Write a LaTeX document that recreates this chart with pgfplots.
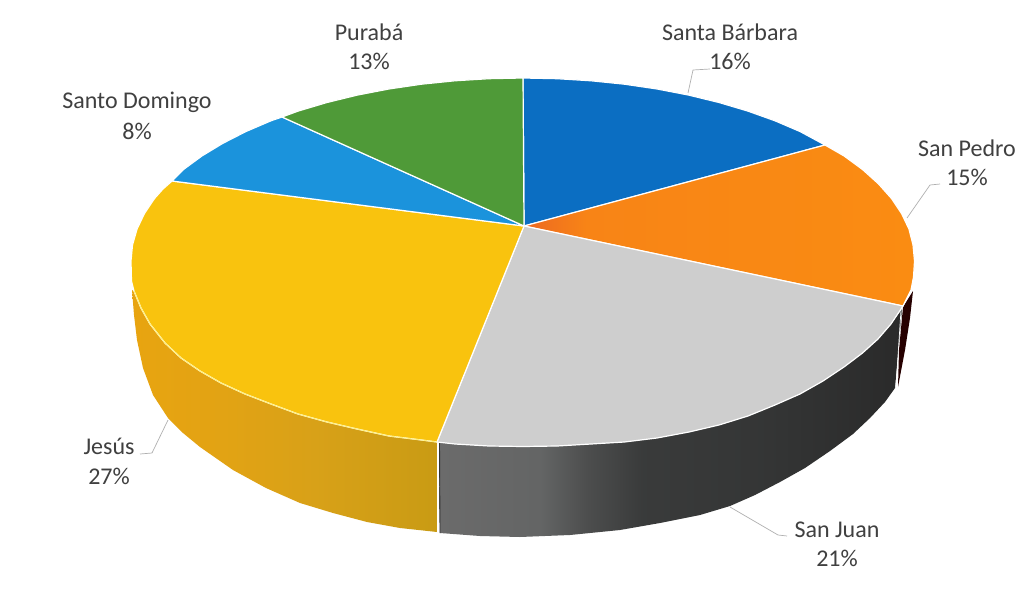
\documentclass[border=0pt]{standalone}
\usepackage{pgfplots}
\pgfplotsset{compat=1.18}
\usepackage{fontspec}
\setmainfont{Carlito}

\definecolor{sbblue}{HTML}{0B6EC2}
\definecolor{sdblue}{HTML}{1B93DC}
\definecolor{pgreen}{HTML}{4F9A38}
\definecolor{gold}{HTML}{F9C30E}
\definecolor{topgray}{HTML}{CECECE}
\definecolor{labeltext}{HTML}{404040}
\definecolor{leader}{HTML}{B0B0B0}
\definecolor{goldrim}{HTML}{FFF07A}

% Horizontal colour ramps for the rim and for the orange wedge (25bp..75bp spans the path).
\pgfdeclarehorizontalshading{rimgold}{100bp}{
  rgb(0bp)=(0.91,0.643,0.063);
  rgb(25bp)=(0.91,0.643,0.063);
  rgb(40bp)=(0.886,0.639,0.078);
  rgb(55bp)=(0.847,0.631,0.094);
  rgb(75bp)=(0.788,0.608,0.078);
  rgb(100bp)=(0.788,0.608,0.078)}
\pgfdeclarehorizontalshading{rimgray}{100bp}{
  rgb(0bp)=(0.42,0.42,0.42);
  rgb(25bp)=(0.42,0.42,0.42);
  rgb(36bp)=(0.39,0.395,0.395);
  rgb(41bp)=(0.30,0.305,0.305);
  rgb(47bp)=(0.225,0.23,0.23);
  rgb(60bp)=(0.205,0.21,0.21);
  rgb(75bp)=(0.165,0.165,0.165);
  rgb(100bp)=(0.165,0.165,0.165)}
\pgfdeclarehorizontalshading{topfaceorange}{100bp}{
  rgb(0bp)=(0.925,0.408,0.133);
  rgb(25bp)=(0.925,0.408,0.133);
  rgb(33bp)=(0.973,0.518,0.086);
  rgb(75bp)=(0.98,0.549,0.071);
  rgb(100bp)=(0.98,0.549,0.071)}

\begin{document}
\begin{tikzpicture}
\begin{axis}[
  scale only axis, width=1024pt, height=607pt,
  xmin=0, xmax=1024, ymin=0, ymax=607, y dir=reverse,
  hide axis, clip=false, no marks,
  every axis plot/.append style={line join=round},
]
% White sheet spanning the whole plot area
\addplot[draw=none, fill=white] coordinates {(0,0) (1024,0) (1024,607) (0,607)} -- cycle;
% Rim of the Jesús slice
\addplot[draw=none, shading=rimgold] coordinates {
  (437,441) (421.5,438) (389,434) (357,427) (327,420) (298,412) (271,402) (245,392)
  (221,381) (200,369) (181,356) (165,341) (150,322) (141,306) (134,291) (132,290)
  (134,315) (137,340) (143,368) (153,395) (168,418) (183,433) (200,447) (233,470) (266,488)
  (300,503) (333,513) (367,522) (400,528) (437,532)} -- cycle;
% Rim of the San Juan slice
\addplot[draw=none, shading=rimgray] coordinates {
  (439,441) (489,446) (523,446.5) (591,444) (657,438) (719,425) (775,405) (823,381)
  (862,353) (891,324) (902,309)
  (895,388) (885,402) (870,418) (853,434) (830,451) (805,468) (780,482) (755,495)
  (730,506) (700,515) (660,523) (620,530) (570,535) (520,537) (480,536) (440,533)} -- cycle;
% Sliver of the San Pedro rim at the far right
\addplot[draw=none, fill=black!85!red] coordinates {
  (903,307) (913,291) (910,318) (905,350) (898,387) (899,350)} -- cycle;
% Seams on the rim
\addplot[white, line width=1.1pt] coordinates {(437.5,442) (437.5,532.5)};
\addplot[black!80, line width=0.9pt] coordinates {(439.5,443) (440,533)};
\addplot[white, line width=0.7pt] coordinates {(901,310) (896,386)};

% Top faces, clockwise from twelve o'clock
\addplot[draw=white, line width=1.2pt, fill=sbblue] coordinates {
  (524,226) (523,78) (557.2,78.7) (591.1,80.8) (624.5,84.2) (657.1,89) (688.7,95.1)
  (719,102.5) (747.9,111.1) (775,120.8) (800.2,131.6) (825,145)} -- cycle;
\addplot[draw=white, line width=1.2pt, shading=topfaceorange] coordinates {
  (524,226) (825,145) (844.1,156) (862.5,169.5) (878.3,183.7) (891.4,198.4) (901.6,213.6)
  (909,229.2) (913,245) (914.5,261) (913.5,277) (911,290) (903,306)} -- cycle;
\addplot[draw=white, line width=1.2pt, fill=topgray] coordinates {
  (524,226) (903,306) (891,324) (878,339) (862.5,353) (844,367) (823,381) (800,394)
  (775,405) (748,416) (719,425) (689,432) (657,438) (624.5,442) (591,444) (557,446)
  (523,446.5) (489,446) (455,444) (437,442)} -- cycle;
\addplot[draw=white, line width=1.2pt, fill=gold] coordinates {
  (524,226) (437,442) (421.5,440) (389,436) (357,429) (327,422) (298,414) (271,404)
  (245,394) (221,383) (200,371) (181,358) (165,343) (150,324) (141,308) (134,291)
  (131.5,281) (131,261) (132.5,245) (137,229.2) (144.4,213.6) (154.6,198.4) (163,189) (172,181)} -- cycle;
\addplot[draw=white, line width=1.2pt, fill=sdblue] coordinates {
  (524,226) (172,181) (183.5,169.5) (201.9,156) (222.7,143.4) (245.8,131.6) (271,120.8)
  (282,117)} -- cycle;
\addplot[draw=white, line width=1.2pt, fill=pgreen] coordinates {
  (524,226) (282,117) (298.1,111.1) (327,102.5) (357.3,95.1) (388.9,89) (421.5,84.2)
  (454.9,80.8) (488.8,78.7) (523,78)} -- cycle;
% Pale edge where the gold face meets its rim
\addplot[goldrim, line width=0.9pt] coordinates {
  (437,442) (421.5,440) (389,436) (357,429) (327,422) (298,414) (271,404) (245,394)
  (221,383) (200,371) (181,358) (165,343) (150,324) (141,308) (134,291)};

% Leader lines
\addplot[leader, line width=0.7pt] coordinates {(688,93) (693,70) (710,69)};
\addplot[leader, line width=0.7pt] coordinates {(907,218) (930,185) (940,184)};
\addplot[leader, line width=0.7pt] coordinates {(168,420) (152,453) (140,454)};
\addplot[leader, line width=0.7pt] coordinates {(730,507) (778,535) (787,536)};

% Slice labels
\tikzset{slicelabel/.style={text=labeltext, font=\fontsize{24}{28}\selectfont, inner sep=0pt, anchor=center}}
\node[slicelabel] at (axis cs:369,32) {Purabá};
\node[slicelabel] at (axis cs:369,61) {13\%};
\node[slicelabel] at (axis cs:730,32) {Santa Bárbara};
\node[slicelabel] at (axis cs:730,61) {16\%};
\node[slicelabel] at (axis cs:967,148) {San Pedro};
\node[slicelabel] at (axis cs:967,177) {15\%};
\node[slicelabel] at (axis cs:137,102) {Santo Domingo};
\node[slicelabel] at (axis cs:137,131) {8\%};
\node[slicelabel] at (axis cs:109,446) {Jesús};
\node[slicelabel] at (axis cs:109,476) {27\%};
\node[slicelabel] at (axis cs:837,530) {San Juan};
\node[slicelabel] at (axis cs:837,558) {21\%};
\end{axis}
\end{tikzpicture}
\end{document}
